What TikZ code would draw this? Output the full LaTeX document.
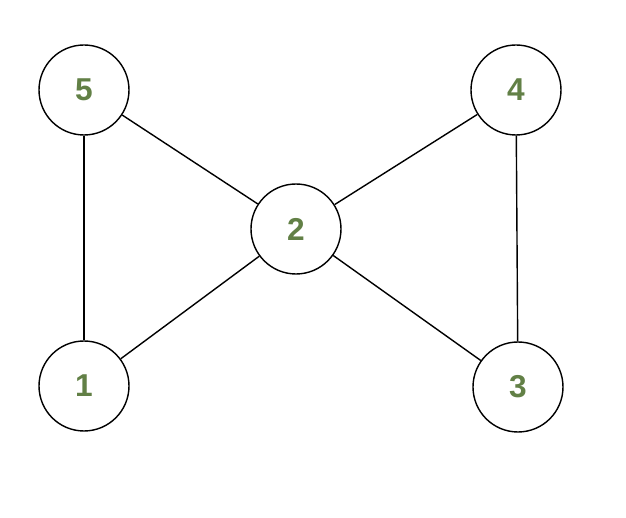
\documentclass[tikz,border=0pt]{standalone}
\usepackage{fontspec}
\setmainfont{Liberation Sans}
\usepackage{tikz}
\definecolor{leaf}{RGB}{98,128,70}

\begin{document}
\begin{tikzpicture}[vertex/.style={draw, circle, thick, minimum size=1.8cm, inner sep=0pt, font=\fontsize{18}{20}\selectfont\bfseries, text=leaf}]
\useasboundingbox (0,0) rectangle (12.52,10.36);
% Vertices
\node[vertex] (v5) at (1.68,8.56) {5};
\node[vertex] (v4) at (10.32,8.56) {4};
\node[vertex] (v2) at (5.92,5.78) {2};
\node[vertex] (v1) at (1.68,2.64) {1};
\node[vertex] (v3) at (10.36,2.62) {3};

% Edges
\draw[thick] (v5) -- (v1);
\draw[thick] (v5) -- (v2);
\draw[thick] (v1) -- (v2);
\draw[thick] (v4) -- (v2);
\draw[thick] (v3) -- (v2);
\draw[thick] (v4) -- (v3);
\end{tikzpicture}
\end{document}
